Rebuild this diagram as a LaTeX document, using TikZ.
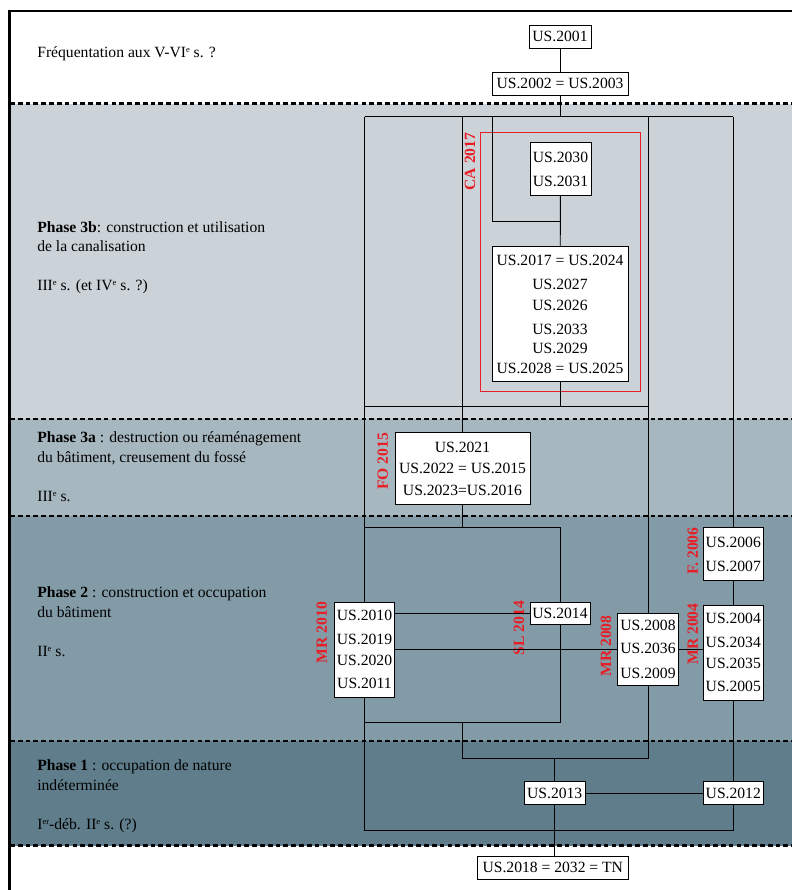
\documentclass[tikz,border=0pt]{standalone}
\usepackage{fontspec}
\setmainfont{Liberation Serif}
\usepackage{tikz}
\usetikzlibrary{calc,positioning}
\definecolor{redlab}{RGB}{232,30,38}
\definecolor{ctroisb}{RGB}{203,211,217}
\definecolor{ctroisa}{RGB}{167,183,191}
\definecolor{cdeux}{RGB}{130,155,167}
\definecolor{cun}{RGB}{95,125,138}
\newcommand{\expo}[1]{\raisebox{0.75ex}{\fontsize{5.5}{6}\selectfont #1}}
\tikzset{
    usbox/.style 2 args={
    rectangle,draw=black,fill=white,line width=0.6pt,inner sep=0pt,align=center,
    minimum width=#1*0.64pt,minimum height=#2*0.64pt,font=\fontsize{10}{12}\selectfont
    },
    fait/.style={
    rotate=90,text=redlab,font=\fontsize{10}{12}\selectfont\bfseries,inner sep=0pt
    },
    phase/.style={
    anchor=north west,align=left,inner sep=0pt,font=\fontsize{10}{12.6}\selectfont
    },
    limite/.style={
    draw=black,dash pattern=on 3pt off 2pt,line width=1.3pt
    },
    lien/.style={
    draw=black,line width=0.6pt
    },
}

\begin{document}
\begin{tikzpicture}[x=0.64pt,y=-0.64pt]
   \useasboundingbox (0,0) rectangle (792,890);
   % bands
   \fill[ctroisb] (10,103.5) rectangle (792,419.3);
   \fill[ctroisa] (10,419.3) rectangle (792,515.7);
   \fill[cdeux] (10,515.7) rectangle (792,741.3);
   \fill[cun] (10,741.3) rectangle (792,845.5);
   \foreach \yy in {103.5,419.3,515.7,741.3,845.5}
     \draw[limite] (10,\yy) -- (792,\yy);
   \draw[line width=1.8pt] (9.5,890) -- (9.5,11) -- (792,11);

   % phases
   \node[phase] (frequ) at (37,46.3) {Fréquentation aux V-VI\expo{e} s. ?};
   \node[phase] (p3b) at (37,221) {\textbf{Phase 3b}: construction et utilisation\\de la canalisation\\[12.4pt]III\expo{e} s. (et IV\expo{e} s. ?)};
   \node[phase] (p3a) at (37,431.7) {\textbf{Phase 3a} : destruction ou réaménagement\\du bâtiment, creusement du fossé\\[12.4pt]III\expo{e} s.};
   \node[phase] (p2) at (37,586.7) {\textbf{Phase 2} : construction et occupation\\du bâtiment\\[12.4pt]II\expo{e} s.};
   \node[phase] (p1) at (37,759.7) {\textbf{Phase 1} : occupation de nature\\indéterminée\\[12.4pt]I\expo{er}-déb. II\expo{e} s. (?)};

   % canalisation
   \draw[redlab,line width=0.6pt] (480,132.7) rectangle (640,391);

   % US
   \node[usbox={62}{23}] (us2001) at (560,36.5) {US.2001};
   \node[usbox={136}{23}] (us2002) at (560,83.5) {US.2002 = US.2003};
   \node[usbox={61}{52.6}] (us2030) at (560.5,169) {US.2030\\[3.4pt]US.2031};
   \node[usbox={136}{134.7}] (us2017) at (560,314.3) {US.2017 = US.2024\\[3.4pt]US.2027\\[1.6pt]US.2026\\[3.2pt]US.2033\\[0.2pt]US.2029\\[0.4pt]US.2028 = US.2025};
   \node[usbox={135}{72}] (us2021) at (462.5,468.7) {US.2021\\[1.4pt]US.2022 = US.2015\\[1.9pt]US.2023=US.2016};
   \node[usbox={60}{53}] (us2006) at (733.3,554.2) {US.2006\\[3.4pt]US.2007};
   \node[usbox={60}{22.3}] (us2014) at (560,613.2) {US.2014};
   \node[usbox={60.4}{95}] (us2010) at (364.5,649.5) {US.2010\\[3.4pt]US.2019\\[1.7pt]US.2020\\[2.9pt]US.2011};
   \node[usbox={60.6}{71.6}] (us2008) at (648,649.5) {US.2008\\[2.3pt]US.2036\\[4pt]US.2009};
   \node[usbox={60}{95}] (us2004) at (733.3,652.5) {US.2004\\[3.4pt]US.2034\\[1.4pt]US.2035\\[3pt]US.2005};
   \node[usbox={61.3}{23.3}] (us2013) at (554.7,793.3) {US.2013};
   \node[usbox={60}{23.3}] (us2012) at (733.3,793.3) {US.2012};
   \node[usbox={151}{23}] (us2018) at (552.8,867.5) {US.2018 = 2032 = TN};

   % faits
   \node[fait] (ca2017) at (470,161.5) {CA 2017};
   \node[fait] (fo2015) at (382.7,461.5) {FO 2015};
   \node[fait] (mr2010) at (321.7,632.5) {MR 2010};
   \node[fait] (sl2014) at (519,628.3) {SL 2014};
   \node[fait] (mr2008) at (606,646) {MR 2008};
   \node[fait] (mr2004) at (692.7,634) {MR 2004};
   \node[fait] (f2006) at (692.7,551) {F. 2006};

   % junctions
   \coordinate (hb) at (560,116.7);
   \coordinate (ca) at (492.7,221);
   \coordinate (hc) at (560,406.7);
   \coordinate (hf) at (462.5,527.7);
   \coordinate (hm) at (462.5,722.7);
   \coordinate (hn) at (554.7,758.3);
   \coordinate (hs) at (734,830);

   \draw[lien] (us2001) -- (us2002);
   \draw[lien] (us2002) -- (hb);
   \draw[lien] (us2010 |- hb) -- (us2006 |- hb);
   \draw[lien] (us2010 |- hb) -- (us2010);
   \draw[lien] (us2021 |- hb) -- (us2021);
   \draw[lien] (us2008 |- hb) -- (us2008);
   \draw[lien] (us2006 |- hb) -- (us2006);
   \draw[lien] (ca |- hb) |- (us2030 |- ca);
   \draw[lien] (us2030) -- (us2017);
   \draw[lien] (us2017) -- (hc);
   \draw[lien] (us2010 |- hc) -- (us2008 |- hc);
   \draw[lien] (us2021) -- (hf);
   \draw[lien] (us2010 |- hf) -| (us2014);
   \draw[lien] (us2014.west) -- (us2014.west -| us2010.east);
   \draw[lien] (us2010) -- (us2008);
   \draw[lien] (us2008.east) -- (us2008.east -| us2004.west);
   \draw[lien] (us2006) -- (us2004);
   \draw[lien] (us2014) |- (us2010 |- hm);
   \draw[lien] (hm) |- (us2008 |- hn) -- (us2008);
   \draw[lien] (hn) -- (us2013);
   \draw[lien] (us2013) -- (us2012);
   \draw[lien] (us2004) -- (us2012);
   \draw[lien] (us2012) |- (us2010 |- hs) -- (us2010);
   \draw[lien] (us2013) -- (us2013 |- us2018.north);
\end{tikzpicture}
\end{document}
